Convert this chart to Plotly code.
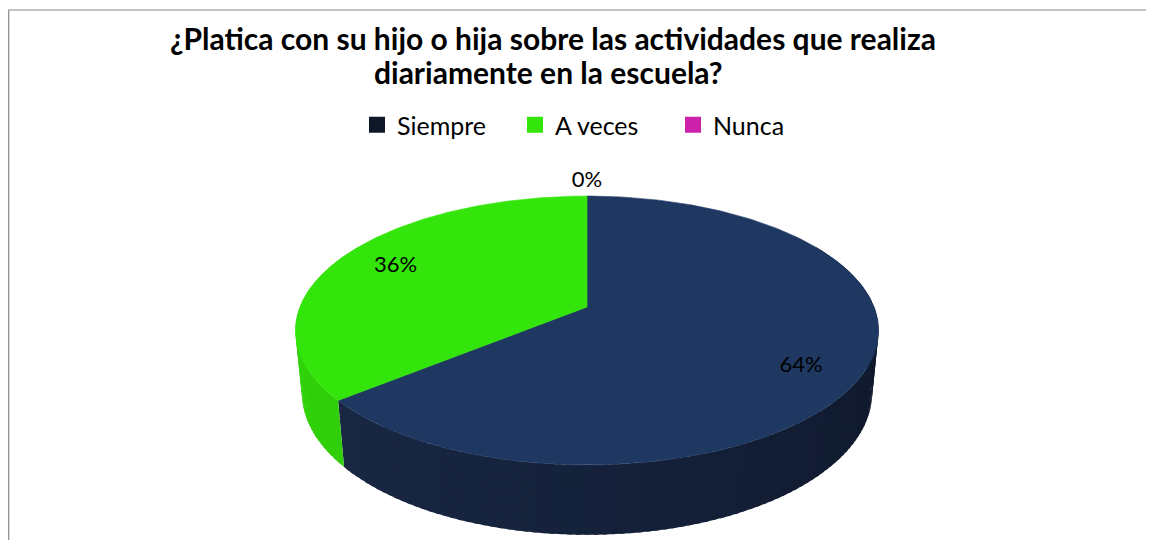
import numpy as np
import plotly.graph_objects as go

# ---- data ----
categories = ["Siempre", "A veces", "Nunca"]
values = [64, 36, 0]
label_text = ["64%", "36%", "0%"]
title_lines = ["¿Platica con su hijo o hija sobre las actividades que realiza",
               "diariamente en la escuela?"]

# ---- style ----
top_colors = ["#1f3862", "#33e50a", "#cc22aa"]
legend_colors = ["#0f1829", "#33e50a", "#cc22aa"]
wall_light = [(30, 47, 80), (50, 214, 10), (170, 25, 140)]
wall_dark = [(12, 20, 37), (42, 190, 9), (140, 20, 115)]
FONT = "Lato"

W, H = 1154, 540          # picture size
OFF = 8                   # page body margin
FW, FH = W - OFF, H - OFF  # figure size
CX, CY = 587, 307
ALPHA = np.radians(27)
DIST = 5.1
FOCAL = 1464
DEPTH = 0.245


def px(x):
    return (x - OFF) / FW


def py(y):
    return 1 - (y - OFF) / FH


def proj(theta_deg, r=1.0, yv=0.0):
    t = np.radians(np.asarray(theta_deg, dtype=float))
    x = r * np.sin(t)
    z = r * np.cos(t)
    s, c = np.sin(ALPHA), np.cos(ALPHA)
    d = DIST - yv * s + z * c
    X = FOCAL * x / d
    Y = FOCAL * (yv * c + z * s) / d
    return CX + X, CY - Y


def rgb(t):
    return "rgb(%d,%d,%d)" % tuple(int(round(v)) for v in t)


total = float(sum(values))
starts, ends = [], []
acc = 0.0
for v in values:
    starts.append(acc / total * 360.0)
    acc += v
    ends.append(acc / total * 360.0)

fig = go.Figure()

# side walls (visible front part), drawn as thin overlapping strips with shading
VIS_A, VIS_B = 60.0, 300.0
STEP = 1.5
for i, cat in enumerate(categories):
    a = max(starts[i], VIS_A)
    b = min(ends[i], VIS_B)
    if b <= a:
        continue
    n = max(2, int(np.ceil((b - a) / STEP)))
    edges = np.linspace(a, b, n + 1)
    for k in range(n):
        t0 = edges[k]
        t1 = min(edges[k + 1] + 0.8, b)
        ts = np.linspace(t0, t1, 4)
        xt, yt = proj(ts)
        xb, yb = proj(ts[::-1], yv=-DEPTH)
        xs = np.concatenate([xt, xb, xt[:1]])
        ys = np.concatenate([yt, yb, yt[:1]])
        tm = 0.5 * (edges[k] + edges[k + 1])
        f = np.clip((tm - VIS_A) / (VIS_B - VIS_A), 0, 1)
        col = tuple(wall_dark[i][j] + (wall_light[i][j] - wall_dark[i][j]) * f for j in range(3))
        fig.add_trace(go.Scatter(
            x=xs, y=ys, mode="lines", fill="toself",
            fillcolor=rgb(col), line=dict(color=rgb(col), width=0),
            hoverinfo="skip", showlegend=False))

# top faces
for i, cat in enumerate(categories):
    if ends[i] - starts[i] <= 0:
        continue
    ts = np.linspace(starts[i], ends[i], 240)
    xr, yr = proj(ts)
    xs = np.concatenate([[CX], xr, [CX]])
    ys = np.concatenate([[CY], yr, [CY]])
    fig.add_trace(go.Scatter(
        x=xs, y=ys, mode="lines", fill="toself",
        fillcolor=top_colors[i], line=dict(color=top_colors[i], width=0.6),
        name=cat, hoverinfo="name", showlegend=False))

# data labels
lx, ly = [], []
for i in range(len(categories)):
    mid = 0.5 * (starts[i] + ends[i])
    r = 0.78 if values[i] > 0 else 1.16
    lift = -DEPTH / 2 * max(0.0, -np.cos(np.radians(mid))) if values[i] > 0 else 0.0
    x, y = proj(mid, r=r, yv=lift)
    lx.append(float(x))
    ly.append(float(y))
fig.add_trace(go.Scatter(
    x=lx, y=ly, mode="text", text=label_text,
    textfont=dict(family=FONT, size=22, color="#000000"),
    hoverinfo="skip", showlegend=False))

# legend entries
for i, cat in enumerate(categories):
    fig.add_trace(go.Scatter(
        x=[None], y=[None], mode="markers", name=cat,
        marker=dict(symbol="square", size=16, color=legend_colors[i]),
        showlegend=True))

fig.update_layout(
    width=FW, height=FH, autosize=False,
    margin=dict(l=0, r=0, t=0, b=0),
    paper_bgcolor="white", plot_bgcolor="white",
    xaxis=dict(range=[OFF, W], visible=False, fixedrange=True),
    yaxis=dict(range=[H, OFF], visible=False, fixedrange=True),
    title=dict(
        text="<b>" + title_lines[0] + "</b>",
        x=px(553), xanchor="center", y=py(39), yanchor="middle",
        font=dict(family=FONT, size=30, color="#000000")),
    annotations=[dict(
        text="<b>" + title_lines[1] + "</b>", xref="paper", yref="paper",
        x=px(548), y=py(72), xanchor="center", yanchor="middle", showarrow=False,
        font=dict(family=FONT, size=30, color="#000000"))],
    legend=dict(
        orientation="h", x=px(357), xanchor="left",
        y=py(125), yanchor="middle",
        font=dict(family=FONT, size=25, color="#000000"),
        itemwidth=30, entrywidth=113, bgcolor="rgba(0,0,0,0)"),
    shapes=[dict(type="rect", xref="x", yref="y", x0=OFF + 0.7, y0=10, x1=W + 20, y1=H + 20,
                 line=dict(color="#8a8a8a", width=1.2), fillcolor="rgba(0,0,0,0)", layer="below")],
    showlegend=True,
)

fig.write_html("out.html")
